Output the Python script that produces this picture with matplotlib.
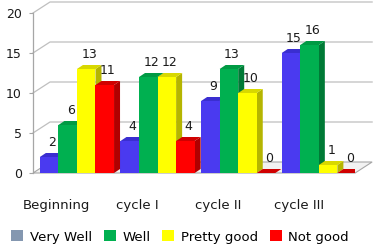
import matplotlib
matplotlib.use("Agg")
import matplotlib.pyplot as plt
from matplotlib.patches import Polygon, Patch
import numpy as np

categories = ["Beginning", "cycle I", "cycle II", "cycle III"]
series_names = ["Very Well", "Well", "Pretty good", "Not good"]
very_well = [2, 4, 9, 15]
well = [6, 12, 13, 16]
pretty_good = [13, 12, 10, 1]
not_good = [11, 4, 0, 0]
yticks = [0, 5, 10, 15, 20]

series = [very_well, well, pretty_good, not_good]
front_cols = ["#4a3af0", "#00b050", "#ffff00", "#ff0000"]
side_cols = ["#2c21a8", "#007a36", "#b5b500", "#b00000"]
top_cols = ["#3a2ed0", "#009a44", "#d8d800", "#d00000"]
legend_cols = ["#8497b0", "#00b050", "#ffff00", "#ff0000"]

plt.rcParams['font.family'] = ['DejaVu Sans']
fig = plt.figure(figsize=(3.75, 2.5), dpi=100)
ax = fig.add_axes([0.088, 0.308, 0.859, 0.64])

w = 0.23
xl, xr = -0.545, 3.45
ax.set_xlim(xl, xr)
ax.set_ylim(0, 20)
# pixel -> data conversions
pxx = (xr - xl) / (0.859 * 375)
pxy = 20 / (0.64 * 250)
DX, DY = 17 * pxx, 11 * pxy     # wall depth
bdx, bdy = 6 * pxx, 4 * pxy       # bar depth

grid_c = "#bfbfbf"
# floor
floor = Polygon([(xl, 0), (xr, 0), (xr + DX, DY), (xl + DX, DY)], closed=True,
                facecolor="#f2f2f2", edgecolor="#a6a6a6", lw=0.8, clip_on=False, zorder=1)
ax.add_patch(floor)
for v in yticks[1:]:
    ax.plot([xl, xl + DX, xr + DX], [v, v + DY, v + DY], color=grid_c, lw=0.9,
            clip_on=False, zorder=0.5)
ax.plot([xl, xl], [0, 20], color="#a6a6a6", lw=0.9, clip_on=False, zorder=2)

x = np.arange(len(categories))
z = 3
for k, vals in enumerate(series):
    xs = x + (k - 1.5) * w
    ax.bar(xs, vals, width=w, color=front_cols[k], zorder=z + 2 * k, linewidth=0)
    for xi, h in zip(xs, vals):
        r = xi + w / 2
        l = xi - w / 2
        side = Polygon([(r, 0), (r + bdx, bdy), (r + bdx, h + bdy), (r, h)], closed=True,
                       facecolor=side_cols[k], edgecolor="none", zorder=z + 2 * k - 0.5)
        top = Polygon([(l, h), (l + bdx, h + bdy), (r + bdx, h + bdy), (r, h)], closed=True,
                      facecolor=top_cols[k], edgecolor="none", zorder=z + 2 * k - 0.5)
        ax.add_patch(side)
        ax.add_patch(top)
        ax.annotate(str(h), (xi + bdx / 2, h + bdy), xytext=(0, 3), textcoords="offset points",
                    ha="center", va="bottom", fontsize=9, color="#1a1a1a", zorder=20)

for s in ax.spines.values():
    s.set_visible(False)
ax.set_yticks(yticks)
ax.tick_params(axis="y", length=3, color="#a6a6a6", labelsize=9, pad=5, labelcolor="#1a1a1a")
ax.set_xticks(x - 0.25)
ax.set_xticklabels(categories)
ax.tick_params(axis="x", length=0, labelsize=9.5, pad=19, labelcolor="#1a1a1a")

handles = [Patch(facecolor=c, edgecolor="none") for c in legend_cols]
fig.legend(handles, series_names, loc="center", bbox_to_anchor=(0.48, 0.052), ncol=4,
           frameon=False, fontsize=9.5, handlelength=0.9, handleheight=0.9,
           handletextpad=0.5, columnspacing=0.9, borderaxespad=0)

fig.savefig("out.png", dpi=100)
